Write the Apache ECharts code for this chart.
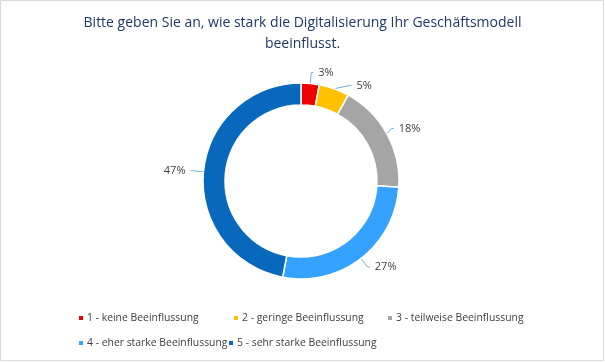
<!DOCTYPE html>
<html>
<head>
<meta charset="utf-8">
<script src="https://cdn.jsdelivr.net/npm/echarts@6/dist/echarts.min.js"></script>
<style>html,body{margin:0;padding:0;background:#fff}#c{width:605px;height:362px}</style>
</head>
<body>
<div id="c"></div>
<script>
const titleText = 'Bitte geben Sie an, wie stark die Digitalisierung Ihr Geschäftsmodell\nbeeinflusst.';
const categories = ['1 - keine Beeinflussung', '2 - geringe Beeinflussung', '3 - teilweise Beeinflussung', '4 - eher starke Beeinflussung', '5 - sehr starke Beeinflussung'];
const values = [3, 5, 18, 27, 47];
const colors = ['#EE0000', '#FFC000', '#A5A5A5', '#36A2FF', '#0868BC'];

const legendPos = [
  {left: 77, top: 313},
  {left: 232, top: 313},
  {left: 386, top: 313},
  {left: 77, top: 338},
  {left: 227, top: 338}
];

const chart = echarts.init(document.getElementById('c'));
chart.setOption({
  animation: false,
  color: colors,
  title: {
    text: titleText,
    left: 'center',
    top: 8,
    textStyle: {fontFamily: 'Open Sans', fontWeight: 'normal', fontSize: 14, color: '#1F3864', lineHeight: 21}
  },
  legend: categories.map((c, i) => ({
    data: [c],
    left: legendPos[i].left,
    top: legendPos[i].top,
    padding: 0,
    itemWidth: 6, itemHeight: 6, itemGap: 4,
    icon: 'rect',
    textStyle: {fontFamily: 'Open Sans', fontSize: 10.4, color: '#404040', padding: [0,0,0,-2]}
  })),
  graphic: [{
    type: 'rect', shape: {x: 0.5, y: 0.5, width: 603, height: 360},
    style: {fill: 'none', stroke: '#D9D9D9', lineWidth: 1}, silent: true
  }],
  series: [{
    type: 'pie',
    center: [301, 181],
    radius: [76, 98],
    startAngle: 90,
    clockwise: true,
    itemStyle: {borderColor: '#fff', borderWidth: 1.5},
    label: {
      formatter: '{c}%',
      fontFamily: 'Open Sans', fontSize: 11, color: '#404040'
    },
    labelLine: {length: 11, length2: 2, lineStyle: {color: '#6AB0E0', width: 1}},
    data: categories.map((c, i) => ({name: c, value: values[i]}))
  }]
});
</script>
</body>
</html>
